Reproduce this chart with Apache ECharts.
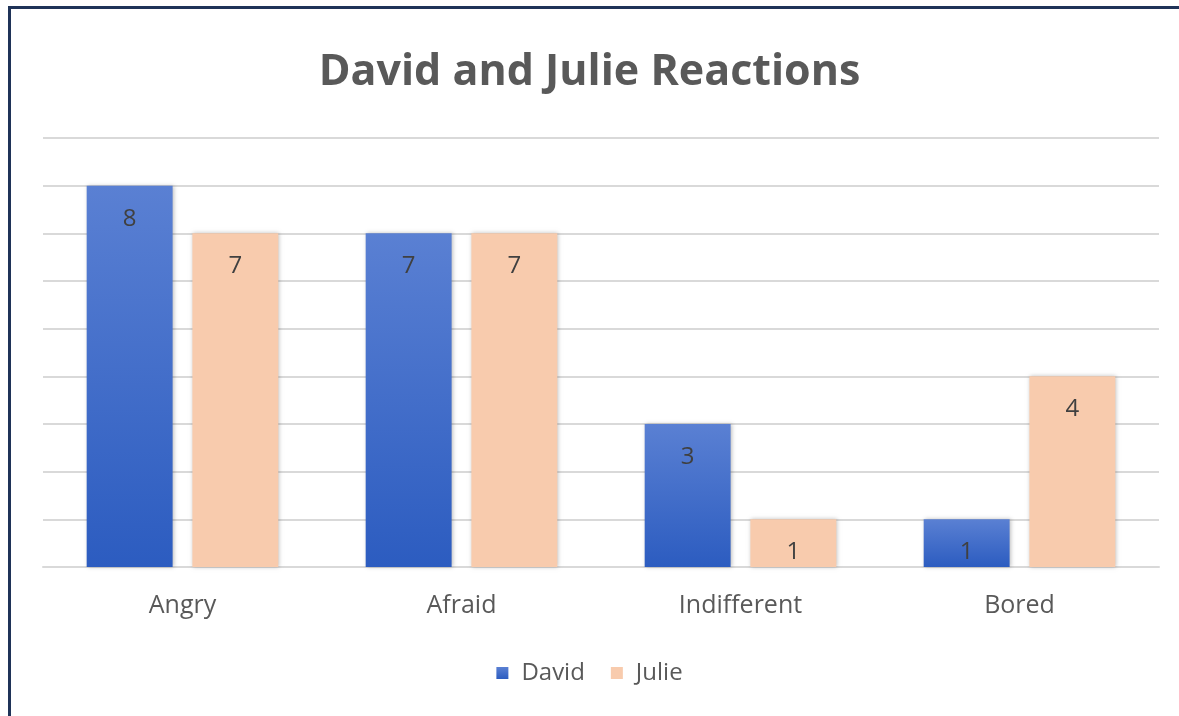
<!DOCTYPE html>
<html><head><meta charset="utf-8">
<script src="https://cdn.jsdelivr.net/npm/echarts@6/dist/echarts.min.js"></script>
<style>
html,body{margin:0;padding:0;background:#fff;}
#frame{position:absolute;left:8px;top:6px;width:1175px;height:715px;border-left:3px solid #1f3358;border-top:3px solid #1f3358;box-sizing:border-box;}
#c{position:absolute;left:0;top:0;width:1179px;height:716px;}
</style></head>
<body>
<div id="frame"></div>
<div id="c"></div>
<script>
const categories = ['Angry', 'Afraid', 'Indifferent', 'Bored'];
const david = [8, 7, 3, 1];
const julie = [7, 7, 1, 4];
const seriesNames = ['David', 'Julie'];

const chart = echarts.init(document.getElementById('c'), null, {renderer: 'canvas'});
const font = 'Open Sans, Liberation Sans, sans-serif';
chart.setOption({
  animation: false,
  title: {
    text: 'David and Julie Reactions',
    left: 'center', top: 46,
    textStyle: {fontFamily: font, fontSize: 43, fontWeight: 'bold', color: '#595959'}
  },
  legend: {
    data: seriesNames, bottom: 26, left: 'center',
    itemWidth: 12, itemHeight: 12, itemGap: 26,
    icon: 'rect',
    textStyle: {fontFamily: font, fontSize: 24, color: '#595959', padding: [0, 0, 0, 8]}
  },
  grid: {left: 43, right: 20, top: 138, bottom: 149},
  xAxis: {
    type: 'category', data: categories,
    axisLine: {lineStyle: {color: '#d9d9d9', width: 2}},
    axisTick: {show: false},
    axisLabel: {fontFamily: font, fontSize: 25, color: '#595959', margin: 26}
  },
  yAxis: {
    type: 'value', min: 0, max: 9, interval: 1,
    axisLabel: {show: false}, axisLine: {show: false}, axisTick: {show: false},
    splitLine: {lineStyle: {color: '#d9d9d9', width: 2}}
  },
  series: [
    {
      name: 'David', type: 'bar', data: david,
      barWidth: '30.8%', barGap: '23%',
      itemStyle: {
        color: new echarts.graphic.LinearGradient(0, 0, 0, 1, [
          {offset: 0, color: '#5a80d3'}, {offset: 1, color: '#2c5cc0'}]),
        shadowColor: 'rgba(0,0,0,0.25)', shadowBlur: 4, shadowOffsetX: 1
      },
      label: {show: true, position: 'insideTop', distance: 21, fontFamily: font, fontSize: 24, color: '#404040'}
    },
    {
      name: 'Julie', type: 'bar', data: julie,
      barWidth: '30.8%',
      itemStyle: {color: '#f8cbad', shadowColor: 'rgba(0,0,0,0.25)', shadowBlur: 4, shadowOffsetX: 1},
      label: {show: true, position: 'insideTop', distance: 21, fontFamily: font, fontSize: 24, color: '#404040'}
    }
  ]
});
</script>
</body></html>
